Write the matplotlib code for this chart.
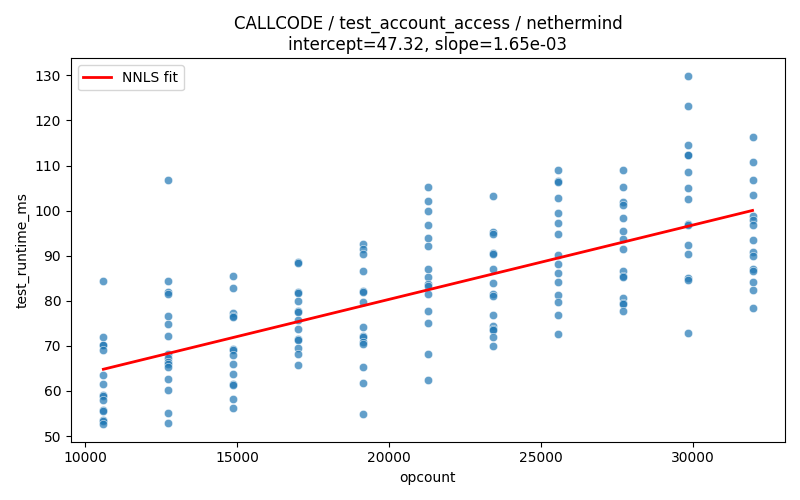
import matplotlib
matplotlib.use("Agg")
import matplotlib.pyplot as plt
import numpy as np
import pandas as pd
import seaborn as sns

# opcount levels (one column of runs per level)
opcounts = [10600, 12735, 14870, 17005, 19140, 21275, 23410, 25545, 27680, 29815, 31950]

# test_runtime_ms per opcount level
runtimes = [
    [84.4, 71.9, 70.3, 70.1, 69.0, 63.5, 61.5, 59.2, 58.8, 57.9, 55.8, 55.5, 53.6, 53.3, 52.6],
    [106.8, 84.4, 81.9, 81.5, 76.6, 74.8, 72.2, 68.2, 67.4, 66.4, 65.9, 65.4, 62.6, 60.2, 55.0, 52.8],
    [85.5, 82.8, 77.2, 76.7, 76.4, 69.2, 69.0, 67.9, 65.9, 63.7, 61.6, 61.3, 58.2, 56.2],
    [88.7, 88.4, 81.9, 81.7, 79.9, 77.8, 77.6, 75.8, 73.7, 71.6, 71.3, 69.6, 68.2, 65.7],
    [92.7, 91.5, 90.4, 86.6, 82.2, 81.9, 79.8, 74.2, 72.2, 71.9, 70.9, 70.4, 65.3, 61.8, 54.8],
    [105.3, 102.2, 99.9, 96.7, 93.9, 92.2, 87.0, 85.3, 83.8, 83.3, 81.5, 77.8, 75.0, 68.2, 62.4],
    [103.3, 95.3, 94.8, 90.5, 90.3, 87.0, 84.0, 81.5, 81.1, 76.8, 74.3, 73.7, 73.6, 71.9, 69.9],
    [108.9, 106.5, 106.3, 102.8, 99.5, 97.3, 94.8, 90.1, 88.2, 86.2, 84.2, 81.3, 79.7, 76.8, 72.6],
    [109.0, 105.3, 101.9, 101.3, 98.4, 95.5, 93.6, 91.5, 86.7, 85.6, 85.3, 80.7, 79.5, 79.3, 77.7],
    [129.9, 123.3, 114.6, 112.4, 112.3, 108.6, 105.0, 102.6, 97.0, 96.7, 92.4, 90.4, 85.0, 84.7, 72.8],
    [116.4, 110.8, 106.8, 103.5, 98.9, 97.9, 96.7, 93.5, 90.8, 90.0, 87.0, 86.7, 84.2, 82.4, 78.4],
]

intercept = 47.32
slope = 1.65e-03

rows = [(x, y) for x, ys in zip(opcounts, runtimes) for y in ys]
df = pd.DataFrame(rows, columns=["opcount", "test_runtime_ms"])

fig, ax = plt.subplots(figsize=(8, 5), dpi=100)
sns.scatterplot(data=df, x="opcount", y="test_runtime_ms", alpha=0.7, ax=ax)

xs = np.array([min(opcounts), max(opcounts)])
ax.plot(xs, intercept + slope * xs, color="red", linewidth=2, label="NNLS fit")
ax.legend(loc="upper left")
ax.set_title(f"CALLCODE / test_account_access / nethermind\n"
             f"intercept={intercept:.2f}, slope={slope:.2e}")
fig.tight_layout()
fig.savefig("out.png", dpi=100)
